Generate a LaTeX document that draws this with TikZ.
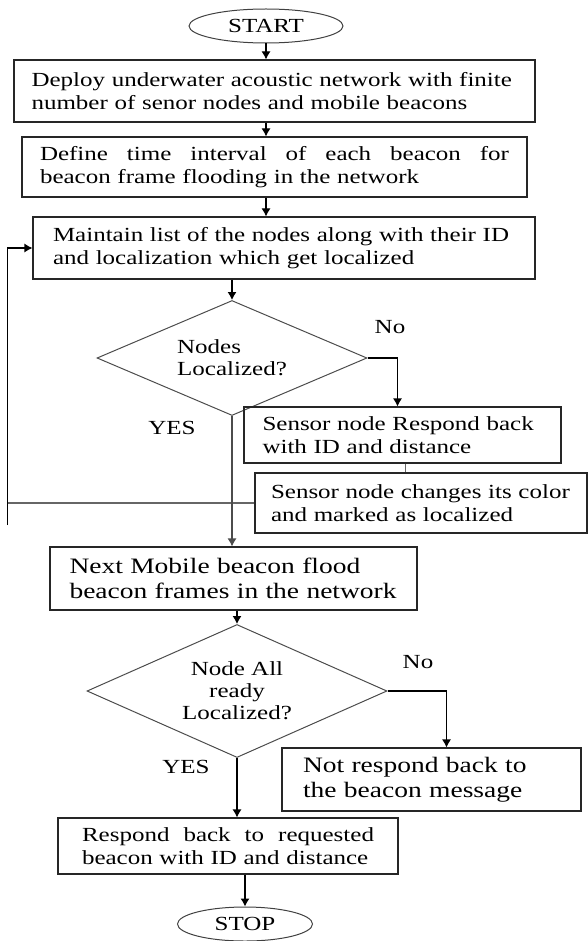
\documentclass[tikz,border=0pt]{standalone}
\usepackage{fontspec}
\setmainfont{Liberation Serif}[FakeStretch=1.25]
\usetikzlibrary{shapes.geometric,arrows.meta}
\begin{document}
\begin{tikzpicture}[x=1pt,y=-1pt,
  boxst/.style={draw=black!85,line width=1.1pt,rectangle,inner sep=0pt,font=\fontsize{20}{23.5}\selectfont},
  bigbox/.style={boxst,font=\fontsize{22}{25}\selectfont},
  decst/.style={draw=black!70,line width=1pt,diamond,inner sep=0pt,font=\fontsize{20}{22}\selectfont},
  termst/.style={draw=black!75,line width=1pt,ellipse,inner sep=0pt,font=\fontsize{20}{22}\selectfont},
  lblst/.style={inner sep=0pt,font=\fontsize{20}{22}\selectfont},
  arr/.style={draw=black,line width=1.1pt,-{Latex[length=8pt,width=9pt]}},
  gline/.style={draw=black!60,line width=1.3pt}]
\useasboundingbox (0,0) rectangle (588,941);

\node[termst,minimum width=154,minimum height=34] (start) at (266,26) {START};
\node[boxst,minimum width=521,minimum height=62,text width=486,align=left] (b1) at (274.5,91)
  {Deploy underwater acoustic network with finite\\number of senor nodes and mobile beacons};
\node[boxst,minimum width=505,minimum height=60,text width=469,align=left] (b2) at (274.5,167)
  {\hbox to 469pt{Define\hfill time\hfill interval\hfill of\hfill each\hfill beacon\hfill for}\\beacon frame flooding in the network};
\node[boxst,minimum width=502,minimum height=62,text width=462,align=left] (b3) at (284,248)
  {Maintain list of the nodes along with their ID\\and localization which get localized};
\node[decst,minimum width=270,minimum height=115,aspect=2.35,align=left] (d1) at (232,358)
  {Nodes\\Localized?};
\node[boxst,minimum width=317,minimum height=56,text width=280,align=left] (sr) at (402.5,435)
  {Sensor node Respond back\\with ID and distance};
\node[boxst,minimum width=332,minimum height=60,text width=300,align=left] (sc) at (421,503)
  {Sensor node changes its color\\and marked as localized};
\node[bigbox,minimum width=367,minimum height=63,text width=328,align=left] (nx) at (233.5,578.5)
  {Next Mobile beacon flood\\beacon frames in the network};
\node[decst,minimum width=300,minimum height=133,aspect=2.26,align=center] (d2) at (237,691)
  {Node All\\ready\\Localized?};
\node[bigbox,minimum width=299,minimum height=63,text width=257,align=left] (nr) at (431.5,779.5)
  {Not respond back to\\the beacon message};
\node[boxst,minimum width=340,minimum height=56,text width=292,align=left] (resp) at (228,846)
  {\hbox to 292pt{Respond\hfill back\hfill to\hfill requested}\\beacon with ID and distance};
\node[termst,minimum width=135,minimum height=34] (stop) at (245,924) {STOP};

\node[lblst] (no1) at (390,327) {No};
\node[lblst] (yes1) at (172,428) {YES};
\node[lblst] (no2) at (418,662) {No};
\node[lblst] (yes2) at (186,767) {YES};

\coordinate (loopb) at (7.5,525);

\draw[arr] (start.south) -- (start.south |- b1.north);
\draw[arr] (b1.south -| start) -- (b2.north -| start);
\draw[arr] (b2.south -| start) -- (b3.north -| start);
\draw[arr] (b3.south -| d1) -- (d1.north);
\draw[arr] (d1.east) -| ([xshift=-5pt]sr.north);
\draw[gline] (sr.south -| no1.east) -- (sc.north -| no1.east);
\draw[gline] (sc.west) -- (sc.west -| loopb);
\draw[arr] (loopb) |- (b3.west);
\draw[arr,draw=black!70] (d1.south) -- (d1.south |- nx.north);
\draw[arr] (nx.south -| d2) -- (d2.north);
\draw[arr] (d2.east) -| ([xshift=15pt]nr.north);
\draw[arr] (d2.south) -- (d2.south |- resp.north);
\draw[arr] (resp.south -| stop) -- (stop.north);
\end{tikzpicture}
\end{document}
